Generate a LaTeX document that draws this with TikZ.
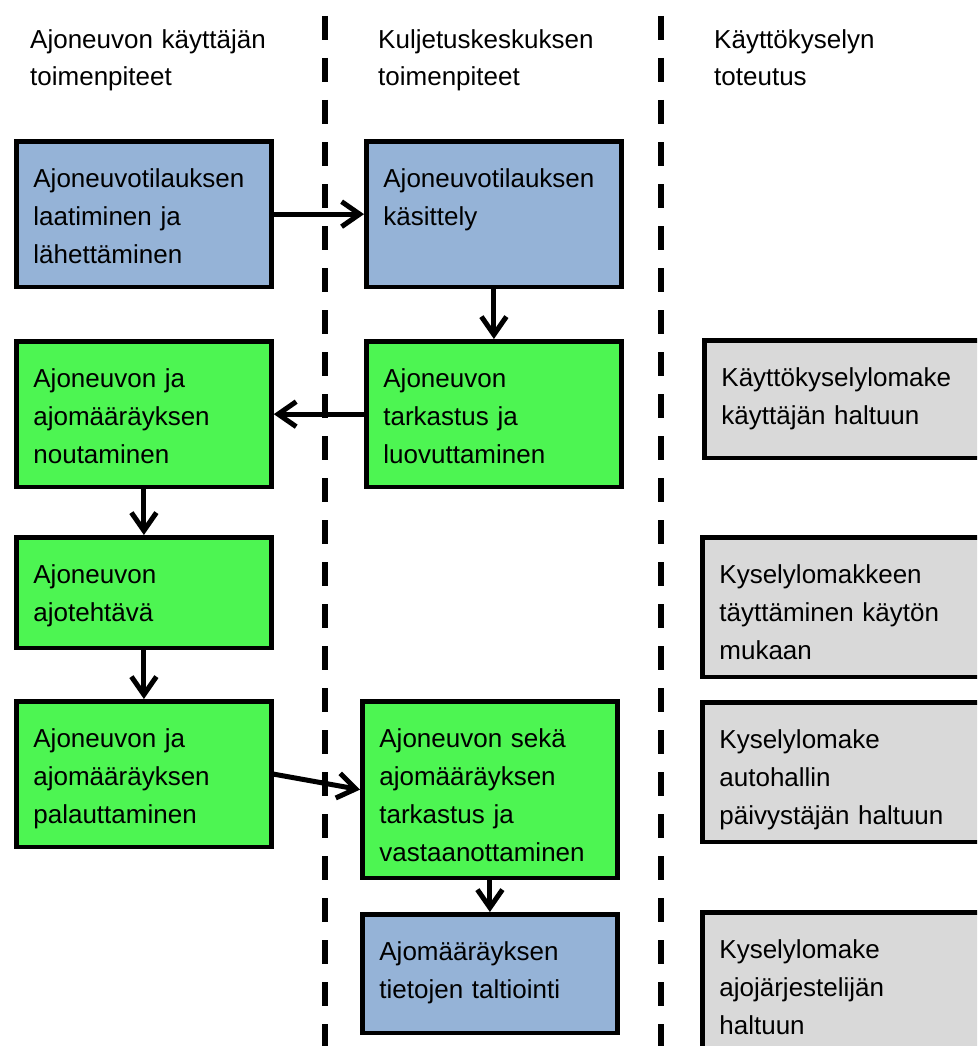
\documentclass[tikz,border=0pt]{standalone}
\usepackage{fontspec}
\setmainfont{Liberation Sans}
\usetikzlibrary{arrows.meta,positioning}

\definecolor{ordblue}{RGB}{149,179,215}
\definecolor{actgreen}{RGB}{77,245,82}
\definecolor{surveygray}{RGB}{217,217,217}

\begin{document}
\begin{tikzpicture}[
  x=1pt, y=-1pt,
  box/.style={rectangle,draw,line width=4.8pt,anchor=north west,inner xsep=17pt,inner ysep=0pt,text height=46pt,text depth=#1,text width=221pt,align=left,font=\fontsize{26}{38}\selectfont},
  order/.style={box=#1,fill=ordblue},
  act/.style={box=#1,fill=actgreen},
  survey/.style={box=#1,fill=surveygray,text width=300pt},
  head/.style={anchor=north west,inner sep=0pt,text height=28pt,text width=260pt,align=left,font=\fontsize{26}{37}\selectfont},
  lane/.style={line width=6pt,dash pattern=on 24pt off 18pt},
  arr/.style={line width=5pt,-{Straight Barb[length=18pt,width=25pt]}}
]
\clip (0,0) rectangle (977,1046);
% lane separators
\draw[lane] (325,16) -- (325,1046);
\draw[lane] (661,16) -- (661,1046);
% lane titles
\node[head] (h1) at (30,20) {Ajoneuvon käyttäjän\\toimenpiteet};
\node[head] (h2) at (378,20) {Kuljetuskeskuksen\\toimenpiteet};
\node[head] (h3) at (714,20) {Käyttökyselyn\\toteutus};
% user actions
\node[order=99.5pt] (A1) at (14,139) {Ajoneuvotilauksen\\laatiminen ja\\lähettäminen};
\node[act=99.5pt] (A2) at (14,339) {Ajoneuvon ja\\ajomääräyksen\\noutaminen};
\node[act=64.5pt] (A3) at (14,535) {Ajoneuvon\\ajotehtävä};
\node[act=99.5pt] (A4) at (14,699) {Ajoneuvon ja\\ajomääräyksen\\palauttaminen};
% transport centre actions
\node[order=99.5pt] (B1) at (364,139) {Ajoneuvotilauksen\\käsittely};
\node[act=99.5pt] (B2) at (364,339) {Ajoneuvon\\tarkastus ja\\luovuttaminen};
\node[act=130.5pt] (B3) at (360,699) {Ajoneuvon sekä\\ajomääräyksen\\tarkastus ja\\vastaanottaminen};
\node[order=72.5pt] (B4) at (360,912) {Ajomääräyksen\\tietojen taltiointi};
% survey
\node[survey=71.5pt] (C1) at (702,338) {Käyttökyselylomake\\käyttäjän haltuun};
\node[survey=93.5pt] (C2) at (700,535) {Kyselylomakkeen\\täyttäminen käytön\\mukaan};
\node[survey=93.5pt] (C3) at (700,700) {Kyselylomake\\autohallin\\päivystäjän haltuun};
\node[survey=110pt] (C4) at (700,910) {Kyselylomake\\ajojärjestelijän\\haltuun};
% flow
\draw[arr] (A1.east) -- (B1.west);
\draw[arr] (B1.south) -- (B2.north);
\draw[arr] (B2.west) -- (A2.east);
\draw[arr] (A2.south) -- (A3.north);
\draw[arr] (A3.south) -- (A4.north);
\draw[arr] (A4.east) -- (B3.west);
\draw[arr] (B3.south) -- (B4.north);
\end{tikzpicture}
\end{document}
